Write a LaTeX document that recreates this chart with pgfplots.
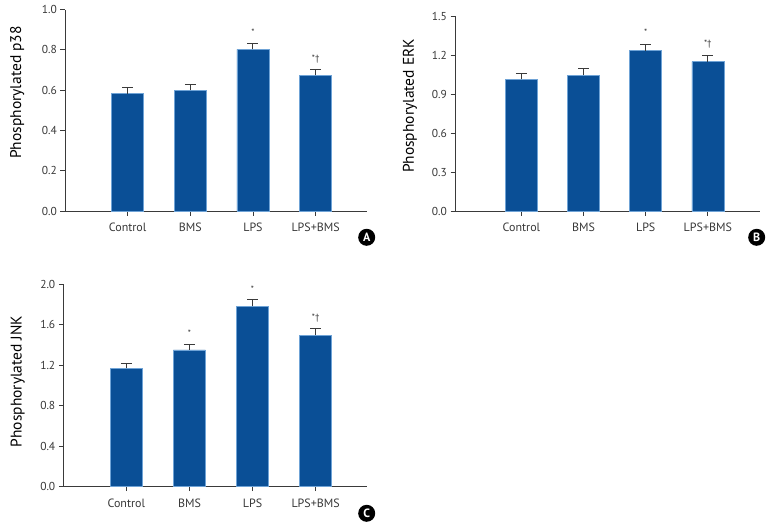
\documentclass[border=0pt]{standalone}
\usepackage{pgfplots}
\pgfplotsset{compat=1.18}
\usepackage{fontspec}
\setmainfont{PT Sans}

\definecolor{barblue}{HTML}{0A4F96}
\definecolor{baredge}{HTML}{6FA3D6}
\definecolor{axisgray}{HTML}{3A3A3A}
\definecolor{textgray}{HTML}{383838}

\pgfplotsset{
  panel/.style={
    scale only axis,
    anchor=south west,
    axis x line*=bottom,
    axis y line*=left,
    axis line style={axisgray, line width=0.9pt},
    tick style={axisgray, line width=0.9pt},
    tick align=outside,
    major tick length=4.5pt,
    xtick={0,1,2,3},
    xticklabels={Control,BMS,LPS,LPS+BMS},
    xticklabel style={font=\fontsize{12}{14}\selectfont, text=textgray, yshift=-4pt},
    yticklabel style={font=\fontsize{11.5}{14}\selectfont, text=textgray,
      /pgf/number format/fixed, /pgf/number format/precision=1,
      /pgf/number format/fixed zerofill},
    /pgf/number format/assume math mode=true,
    ymin=0,
    clip=false,
  },
  ylab/.style 2 args={
    every axis y label/.style={at={(axis description cs:#1,#2)}, rotate=90,
      anchor=center, font=\fontsize{15.5}{17}\selectfont, text=black},
  },
  bars/.style={
    ybar, bar width=32pt, fill=barblue, draw=baredge, line width=0.6pt,
    error bars/.cd, y dir=plus, y explicit,
    error mark options={rotate=90, mark size=5.5pt, line width=1pt, axisgray},
    error bar style={line width=1pt, axisgray},
  },
  stars/.style={
    draw=none, mark=none, nodes near coords, point meta=explicit symbolic,
    every node near coord/.append style={anchor=center, font=\fontsize{9}{10}\selectfont, text=textgray},
  },
}

\begin{document}
\begin{tikzpicture}
\useasboundingbox (0,0) rectangle (780pt,-528pt);

% Panel A
\begin{axis}[panel, at={(65pt,-211pt)}, width=302pt, height=201.5pt,
    xmin=-1, xmax=3.82, ymax=1.0, ytick={0,0.2,0.4,0.6,0.8,1.0},
    ylabel={Phosphorylated p38}, ylab={-0.158}{0.588}]
\addplot[bars] coordinates {
  (0,0.582) +- (0,0.030)
  (1,0.600) +- (0,0.029)
  (2,0.802) +- (0,0.030)
  (3,0.673) +- (0,0.030)
};
\addplot[stars] coordinates {(2,0.885)[*] (3,0.752)[*†]};
\end{axis}

% Panel B
\begin{axis}[panel, at={(455pt,-211.3pt)}, width=305pt, height=195.3pt,
    xmin=-1.07, xmax=3.84, ymax=1.5, ytick={0,0.3,0.6,0.9,1.2,1.5},
    ylabel={Phosphorylated ERK}, ylab={-0.148}{0.54}]
\addplot[bars] coordinates {
  (0,1.014) +- (0,0.048)
  (1,1.045) +- (0,0.048)
  (2,1.233) +- (0,0.047)
  (3,1.149) +- (0,0.046)
};
\addplot[stars] coordinates {(2,1.372)[*] (3,1.285)[*†]};
\end{axis}

% Panel C
\begin{axis}[panel, at={(63.3pt,-486.7pt)}, width=303.4pt, height=202.4pt,
    xmin=-1, xmax=3.81, ymax=2.0, ytick={0,0.4,0.8,1.2,1.6,2.0},
    ylabel={Phosphorylated JNK}, ylab={-0.150}{0.52}]
\addplot[bars] coordinates {
  (0,1.170) +- (0,0.052)
  (1,1.351) +- (0,0.059)
  (2,1.783) +- (0,0.062)
  (3,1.499) +- (0,0.066)
};
\addplot[stars] coordinates {(1,1.52)[*] (2,1.955)[*] (3,1.665)[*†]};
\end{axis}

% panel letters
\foreach \l/\x/\y in {A/366.7/237.3, B/756.7/237.3, C/366.7/513.3}
  \node[circle, fill=black, text=white, inner sep=0pt, minimum size=17pt,
        font=\fontsize{12}{14}\selectfont\bfseries] at (\x pt,-\y pt) {\l};
\end{tikzpicture}
\end{document}
